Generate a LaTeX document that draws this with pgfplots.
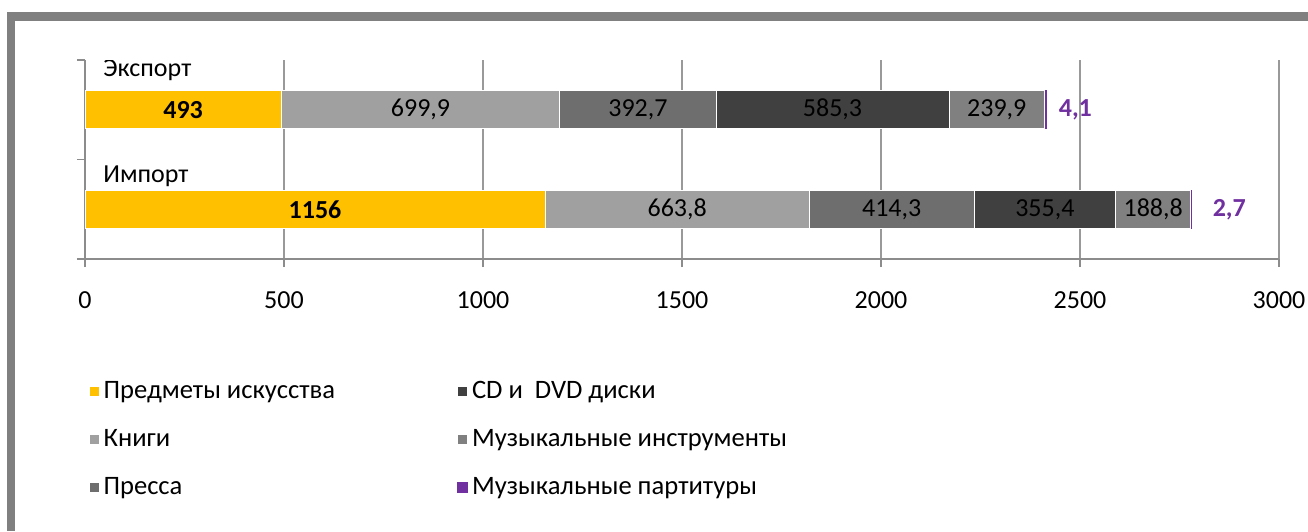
\documentclass[border=0pt]{standalone}
\usepackage{pgfplots}
\pgfplotsset{compat=1.18}
\usepackage{pgfplotstable}
\usepackage{fontspec}
\setmainfont{Carlito}
\definecolor{cArt}{HTML}{FFC000}
\definecolor{cBook}{HTML}{A0A0A0}
\definecolor{cPress}{HTML}{6E6E6E}
\definecolor{cCD}{HTML}{404040}
\definecolor{cInst}{HTML}{808080}
\definecolor{cPurple}{HTML}{7030A0}
\definecolor{cFrame}{HTML}{808080}
\newcommand{\fs}{\fontsize{13}{15.6}\selectfont}
\newcommand{\fl}{\fontsize{13.3}{16}\selectfont}
\pgfplotsset{
  ctr/.style={
    every node near coord/.append style={font=\fs, anchor=center, text=black}},
}

\pgfplotstableread{
y v lab
0.5 1156 1156
1.5 493 493
}\tabArt
\pgfplotstableread{
y v lab
0.5 663.8 663,8
1.5 699.9 699,9
}\tabBook
\pgfplotstableread{
y v lab
0.5 414.3 414,3
1.5 392.7 392,7
}\tabPress
\pgfplotstableread{
y v lab
0.5 355.4 355,4
1.5 585.3 585,3
}\tabCD
\pgfplotstableread{
y v lab
0.5 188.8 188,8
1.5 239.9 239,9
}\tabInst
\pgfplotstableread{
y v lab sh
0.5 2.7 2,7 10.5
1.5 4.1 4,1 6.5
}\tabScore

\begin{document}
\begin{tikzpicture}
\path[use as bounding box] (0,0) rectangle (654pt,265.5pt);
\fill[white] (0,0) rectangle (654pt,265.5pt);
\fill[cFrame] (3.5pt,0pt) rectangle (7.5pt,259.5pt);
\fill[cFrame] (3.5pt,255pt) rectangle (654pt,259.5pt);
\begin{axis}[
  at={(42.5pt,136pt)}, anchor=south west,
  scale only axis, width=597pt, height=99.5pt,
  xbar stacked, bar width=19pt,
  xmin=0, xmax=3000, ymin=0, ymax=2,
  axis lines*=left,
  xtick={0,500,...,3000}, ytick={0,1,2}, yticklabels={},
  tick align=outside, major tick length=4pt,
  tick style={draw=gray!90, line width=0.8pt},
  xmajorgrids, grid style={draw=gray!80, line width=0.8pt},
  axis line style={draw=gray!90, line width=0.8pt},
  /pgf/number format/1000 sep={},
  /pgf/number format/assume math mode=true,
  xticklabel style={font=\fs, yshift=-9pt},
  legend style={at={(-0.002,-0.57)}, anchor=north west, draw=none, fill=none,
    font=\fl, legend columns=3, row sep=10pt,
    /tikz/every even column/.append style={column sep=59pt}},
  transpose legend,
  legend cell align=left,
  legend image code/.code={\fill[#1] (0pt,-2.5pt) rectangle (5pt,2.5pt);},
  nodes near coords,
  point meta=explicit symbolic,
]
\addplot[fill=cArt, draw=white, line width=0.3pt, ctr, every node near coord/.append style={font=\fs\bfseries}] table[x=v,y=y,meta=lab]{\tabArt};
\addlegendentry{Предметы искусства}
\addplot[fill=cBook, draw=white, line width=0.3pt, ctr] table[x=v,y=y,meta=lab]{\tabBook};
\addlegendentry{Книги}
\addplot[fill=cPress, draw=white, line width=0.3pt, ctr] table[x=v,y=y,meta=lab]{\tabPress};
\addlegendentry{Пресса}
\addplot[fill=cCD, draw=white, line width=0.3pt, ctr] table[x=v,y=y,meta=lab]{\tabCD};
\addlegendentry{CD и \ DVD диски}
\addplot[fill=cInst, draw=white, line width=0.3pt, ctr] table[x=v,y=y,meta=lab]{\tabInst};
\addlegendentry{Музыкальные инструменты}
\addplot[fill=cPurple, draw=cPurple, line width=0.5pt,
  visualization depends on={\thisrow{sh} \as \mysh},
  every node near coord/.append style={anchor=west, inner sep=0pt, xshift={\mysh pt}, font=\fs\bfseries, text=cPurple}] table[x=v,y=y,meta=lab]{\tabScore};
\addlegendentry{Музыкальные партитуры}
\node[anchor=west, font=\fs, inner sep=0pt] at (axis cs:45,1.9) {Экспорт};
\node[anchor=west, font=\fs, inner sep=0pt] at (axis cs:45,0.83) {Импорт};
\end{axis}
\end{tikzpicture}
\end{document}
